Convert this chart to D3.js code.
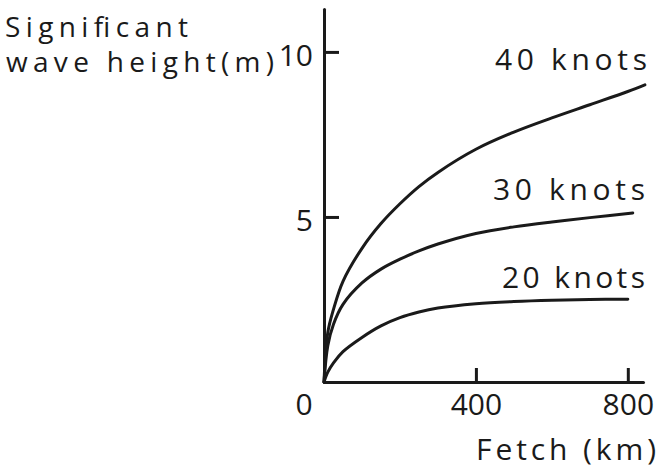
<!DOCTYPE html>
<html>
<head>
<meta charset="utf-8">
<script src="https://cdn.jsdelivr.net/npm/d3@7"></script>
<style>
  html, body { margin: 0; padding: 0; background: #fff; }
  svg { display: block; }
  text { font-family: 'Open Sans', 'DejaVu Sans', sans-serif; fill: #1a1a1a; }
  .axis path, .axis line { stroke: #1a1a1a; stroke-width: 3px; }
  .curve { fill: none; stroke: #1a1a1a; stroke-width: 3px; stroke-linecap: round; }
</style>
</head>
<body>
<div id="chart"></div>
<script>
// fetch (km) and significant wave height (m)
const fetch20 = [0, 10, 25, 50, 100, 150, 200, 250, 300, 400, 500, 600, 700, 800];
const height20 = [0, 0.3, 0.58, 0.92, 1.35, 1.7, 1.95, 2.12, 2.24, 2.37, 2.44, 2.48, 2.5, 2.51];

const fetch30 = [0, 10, 25, 50, 100, 150, 200, 250, 300, 400, 500, 600, 700, 813];
const height30 = [0, 1.1, 1.75, 2.35, 3.0, 3.42, 3.72, 3.97, 4.18, 4.5, 4.7, 4.85, 4.98, 5.12];

const fetch40 = [0, 10, 25, 50, 100, 150, 200, 250, 300, 400, 500, 600, 700, 800, 845];
const height40 = [0, 1.5, 2.2, 3.05, 4.05, 4.8, 5.4, 5.92, 6.35, 7.05, 7.57, 8.0, 8.4, 8.8, 9.0];

const seriesNames = ['20 knots', '30 knots', '40 knots'];
const xTicks = [400, 800];
const yTicks = [5, 10];

const width = 662, height = 473;

const svg = d3.select('#chart').append('svg')
    .attr('width', width)
    .attr('height', height);

const x = d3.scaleLinear().domain([0, 840]).range([324, 643]);
const y = d3.scaleLinear().domain([0, 11.3]).range([382, 9]);

// axes: ticks point into the plot
svg.append('g')
    .attr('class', 'axis')
    .attr('transform', `translate(${x(0)},0)`)
    .call(d3.axisLeft(y).tickValues(yTicks).tickSize(-15).tickSizeOuter(0).tickPadding(11))
    .call(g => g.selectAll('text').style('font-size', '30px').attr('dy', '0.45em'));

svg.append('g')
    .attr('class', 'axis')
    .attr('transform', `translate(0,${y(0)})`)
    .call(d3.axisBottom(x).tickValues(xTicks).tickSize(-14).tickSizeOuter(0).tickPadding(10))
    .call(g => g.selectAll('text').style('font-size', '30px').attr('y', 0).attr('dy', '33px'));

svg.selectAll('.axis .domain').attr('stroke-linecap', 'round');

// the zero sits left of the origin
svg.append('text')
    .attr('x', x(0) - 20)
    .attr('y', y(0) + 33)
    .attr('text-anchor', 'middle')
    .style('font-size', '30px')
    .text('0');

const series = [
    d3.zip(fetch20, height20),
    d3.zip(fetch30, height30),
    d3.zip(fetch40, height40)
];

const line = d3.line()
    .x(d => x(d[0]))
    .y(d => y(d[1]))
    .curve(d3.curveCatmullRom.alpha(0.5));

svg.selectAll('.curve')
    .data(series)
    .enter().append('path')
    .attr('class', 'curve')
    .attr('d', line);

// curve labels, above the right end of each curve
const labelPos = [
    { x: 645, y: 288, len: 143 },
    { x: 645, y: 200, len: 152 },
    { x: 647, y: 70, len: 152 }
];
svg.selectAll('.label')
    .data(seriesNames)
    .enter().append('text')
    .attr('class', 'label')
    .attr('x', (d, i) => labelPos[i].x - labelPos[i].len)
    .attr('y', (d, i) => labelPos[i].y)
    .attr('textLength', (d, i) => labelPos[i].len)
    .attr('lengthAdjust', 'spacing')
    .style('font-size', '30px')
    .text(d => d);

// axis titles
svg.append('text')
    .attr('x', 5).attr('y', 37)
    .attr('textLength', 183).attr('lengthAdjust', 'spacing')
    .style('font-size', '28px')
    .text('Significant');
svg.append('text')
    .attr('x', 6).attr('y', 72)
    .attr('textLength', 268).attr('lengthAdjust', 'spacing')
    .style('font-size', '28px')
    .text('wave height(m)');

svg.append('text')
    .attr('x', 476).attr('y', 460)
    .attr('textLength', 180).attr('lengthAdjust', 'spacing')
    .style('font-size', '30px')
    .text('Fetch (km)');
</script>
</body>
</html>
